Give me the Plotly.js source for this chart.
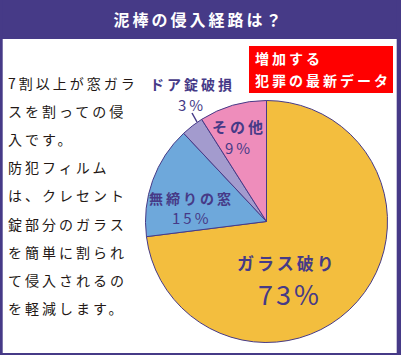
<!DOCTYPE html>
<html>
<head>
<meta charset="utf-8">
<script src="https://cdn.plot.ly/plotly-3.0.1.min.js"></script>
<style>
html, body { margin: 0; padding: 0; background: #fff; }
#chart { width: 401px; height: 355px; }
text { letter-spacing: 3px; }
</style>
</head>
<body>
<div id="chart"></div>
<script>
// ---- data ----
var labels = ["ガラス破り", "無締りの窓", "ドア錠破損", "その他"];
var values = [73, 15, 3, 9];
var sliceColors = ["#F3BE3E", "#6EA8DB", "#A39BCE", "#EE8DBB"];
var titleText = "泥棒の侵入経路は？";
var noteLines = ["7割以上が窓ガラ", "スを割っての侵", "入です。", "防犯フィルム", "は、クレセント", "錠部分のガラス", "を簡単に割られ", "て侵入されるの", "を軽減します。"];
var badgeLines = ["増加する", "犯罪の最新データ"];

// ---- layout helpers (pixel -> paper) ----
var W = 401, H = 355;
function px(x) { return x / W; }
function py(y) { return 1 - y / H; }

var purple = "#463A87";
var font = "Noto Sans CJK JP, sans-serif";

var cx = 266.5, cy = 221.5, r = 121;

var trace = {
  type: "pie",
  labels: labels,
  values: values,
  marker: { colors: sliceColors, line: { color: purple, width: 1 } },
  sort: false,
  direction: "clockwise",
  rotation: 0,
  textinfo: "none",
  hoverinfo: "label+percent",
  showlegend: false,
  domain: { x: [px(cx - r), px(cx + r)], y: [py(cy + r), py(cy - r)] }
};

var annotations = [];
// left note text
noteLines.forEach(function (t, i) {
  annotations.push({
    text: t, xref: "paper", yref: "paper",
    x: px(6), y: py(83 + 28.1 * i), xanchor: "left", yanchor: "middle", align: "left",
    showarrow: false, font: { family: font, size: 14, color: "#231815" }
  });
});
// badge text
badgeLines.forEach(function (t, i) {
  annotations.push({
    text: t, xref: "paper", yref: "paper",
    x: px(253), y: py(58 + 22 * i), xanchor: "left", yanchor: "middle", align: "left",
    showarrow: false, font: { family: font, size: 14, color: "#FFFFFF", weight: "bold" }
  });
});
// slice labels
var labelPos = [
  { nx: 287, ny: 262, vy: 293, ns: 17, vs: 27 },
  { nx: 191, ny: 198, vy: 218, ns: 14, vs: 15 },
  { nx: 192, ny: 84, vy: 104, ns: 14, vs: 15 },
  { nx: 239, ny: 127, vy: 147, ns: 15, vs: 15 }
];
labels.forEach(function (lab, i) {
  var p = labelPos[i];
  annotations.push({
    text: lab, xref: "paper", yref: "paper", x: px(p.nx), y: py(p.ny),
    xanchor: "center", yanchor: "middle", showarrow: false,
    font: { family: font, size: p.ns, color: purple, weight: "bold" }
  });
  annotations.push({
    text: values[i] + "%", xref: "paper", yref: "paper", x: px(p.nx + (i === 0 ? 3 : 0)), y: py(p.vy),
    xanchor: "center", yanchor: "middle", showarrow: false,
    font: { family: font, size: p.vs, color: purple, weight: i === 0 ? "normal" : "normal" }
  });
});

var shapes = [
  // title bar
  { type: "rect", xref: "paper", yref: "paper", x0: 0, x1: 1, y0: py(39), y1: 1, fillcolor: purple, line: { width: 0 }, layer: "below" },
  // frame sides
  { type: "rect", xref: "paper", yref: "paper", x0: 0, x1: px(2.7), y0: 0, y1: 1, fillcolor: purple, line: { width: 0 }, layer: "below" },
  { type: "rect", xref: "paper", yref: "paper", x0: px(396.7), x1: 1, y0: 0, y1: 1, fillcolor: purple, line: { width: 0 }, layer: "below" },
  { type: "rect", xref: "paper", yref: "paper", x0: 0, x1: 1, y0: 0, y1: py(353), fillcolor: purple, line: { width: 0 }, layer: "below" },
  // red badge
  { type: "rect", xref: "paper", yref: "paper", x0: px(249), x1: px(393), y0: py(93), y1: py(46), fillcolor: "#FF0000", line: { width: 0 }, layer: "below" },
  // leader for small slice
  { type: "line", xref: "paper", yref: "paper", x0: px(192), y0: py(113), x1: px(197), y1: py(122), line: { color: purple, width: 1.5 } }
];

var layout = {
  width: W, height: H,
  margin: { l: 0, r: 0, t: 0, b: 0 },
  paper_bgcolor: "#FFFFFF",
  title: {
    text: titleText, x: px(199), xanchor: "center", y: py(20), yanchor: "middle",
    font: { family: font, size: 16, color: "#FFFFFF", weight: "bold" }
  },
  annotations: annotations,
  shapes: shapes
};

Plotly.newPlot("chart", [trace], layout, { displayModeBar: false, staticPlot: true });
</script>
</body>
</html>
